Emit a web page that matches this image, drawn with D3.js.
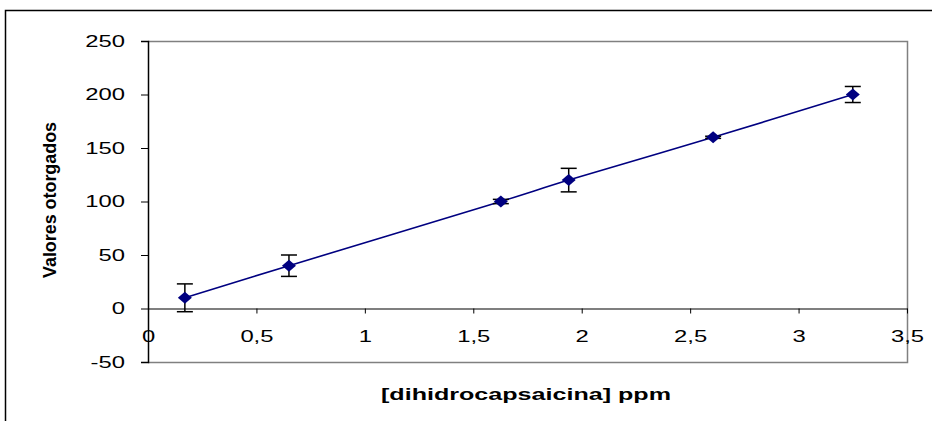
<!DOCTYPE html>
<html>
<head>
<meta charset="utf-8">
<script src="https://d3js.org/d3.v7.min.js"></script>
<style>
	body { margin: 0; background: #fff; }
	svg { display: block; font-family: "Liberation Sans", Arial, sans-serif; }
</style>
</head>
<body>
<div id="chart"></div>
<script>
// concentration (ppm) vs value, with error bar half-widths
var concentrations = [0.17, 0.65, 1.627, 1.94, 2.606, 3.25];
var values = [10, 40, 100, 120, 160, 200];
var errors = [13, 10, 2, 11, 1, 7.5];
var xTicks = [0, 0.5, 1, 1.5, 2, 2.5, 3, 3.5];
var yTicks = [-50, 0, 50, 100, 150, 200, 250];

( function () {
	'use strict';

	var width = 932, height = 421;
	var plotLeft = 148, plotRight = 907, plotTop = 41, plotBottom = 362;
	var stretch = 1.4; // the original picture is widened horizontally

	var svg = d3.select('#chart')
		.append('svg')
		.attr('width', width)
		.attr('height', height);

	var x = d3.scaleLinear().domain([0, 3.5]).range([plotLeft, plotRight]);
	var y = d3.scaleLinear().domain([-50, 250]).range([plotBottom, plotTop]);

	var fmt = function (d) { return String(d).replace('.', ','); };

	function widen(sel) {
		sel.each(function () {
			var w = this.getComputedTextLength();
			d3.select(this)
				.attr('textLength', w * stretch)
				.attr('lengthAdjust', 'spacingAndGlyphs');
		});
	}

	// outer chart border (cropped on right and bottom)
	svg.append('path')
		.attr('d', 'M5.5,421 L5.5,10.5 L932,10.5')
		.attr('fill', 'none')
		.attr('stroke', '#000')
		.attr('stroke-width', 1.5);

	// plot area frame (top, right, bottom in grey)
	svg.append('path')
		.attr('d', 'M' + plotLeft + ',' + (plotTop + 0.5) + ' L' + (plotRight + 0.5) + ',' + (plotTop + 0.5) +
			' L' + (plotRight + 0.5) + ',' + (plotBottom + 0.5) + ' L' + plotLeft + ',' + (plotBottom + 0.5))
		.attr('fill', 'none')
		.attr('stroke', '#808080')
		.attr('stroke-width', 1.5);

	// y axis
	var yAxis = svg.append('g')
		.attr('transform', 'translate(' + plotLeft + ',0)')
		.call(d3.axisLeft(y).tickValues(yTicks).tickSize(7).tickPadding(16).tickFormat(fmt));
	yAxis.select('.domain').attr('stroke', '#000').attr('stroke-width', 1.5);
	yAxis.selectAll('.tick line').attr('stroke', '#000');
	yAxis.selectAll('text')
		.attr('font-size', 17)
		.attr('fill', '#000')
		.call(widen);

	// x axis sitting at y = 0
	var xAxis = svg.append('g')
		.attr('transform', 'translate(0,' + y(0) + ')')
		.call(d3.axisBottom(x).tickValues(xTicks).tickSize(5).tickPadding(16).tickSizeOuter(0).tickFormat(fmt));
	xAxis.select('.domain').attr('stroke', '#000').attr('stroke-width', 1.2);
	xAxis.selectAll('.tick line').attr('stroke', '#000');
	xAxis.selectAll('text')
		.attr('font-size', 17)
		.attr('fill', '#000')
		.call(widen);

	var points = concentrations.map(function (c, i) {
		return { x: c, y: values[i], e: errors[i] };
	});

	// smoothed line
	var line = d3.line()
		.x(function (d) { return x(d.x); })
		.y(function (d) { return y(d.y); })
		.curve(d3.curveCatmullRom.alpha(0.5));

	svg.append('path')
		.datum(points)
		.attr('d', line)
		.attr('fill', 'none')
		.attr('stroke', '#000080')
		.attr('stroke-width', 1.6);

	// error bars
	var err = svg.append('g')
		.attr('stroke', '#000')
		.attr('stroke-width', 1.5);
	points.forEach(function (d) {
		var cx = x(d.x);
		err.append('line')
			.attr('x1', cx).attr('x2', cx)
			.attr('y1', y(d.y - d.e)).attr('y2', y(d.y + d.e));
		[d.y - d.e, d.y + d.e].forEach(function (v) {
			err.append('line')
				.attr('x1', cx - 8).attr('x2', cx + 8)
				.attr('y1', y(v)).attr('y2', y(v));
		});
	});

	// diamond markers
	svg.append('g')
		.selectAll('path')
		.data(points)
		.enter()
		.append('path')
		.attr('transform', function (d) {
			return 'translate(' + x(d.x) + ',' + y(d.y) + ')';
		})
		.attr('d', 'M0,-6 L7,0 L0,6 L-7,0 Z')
		.attr('fill', '#000080');

	// axis titles
	svg.append('text')
		.attr('x', 526)
		.attr('y', 400)
		.attr('text-anchor', 'middle')
		.attr('font-size', 17)
		.attr('font-weight', 'bold')
		.attr('textLength', 290)
		.attr('lengthAdjust', 'spacingAndGlyphs')
		.text('[dihidrocapsaicina] ppm');

	svg.append('text')
		.attr('transform', 'translate(56,200) rotate(-90)')
		.attr('text-anchor', 'middle')
		.attr('font-size', 18)
		.attr('font-weight', 'bold')
		.attr('textLength', 156)
		.attr('lengthAdjust', 'spacingAndGlyphs')
		.text('Valores otorgados');
}() );
</script>
</body>
</html>
